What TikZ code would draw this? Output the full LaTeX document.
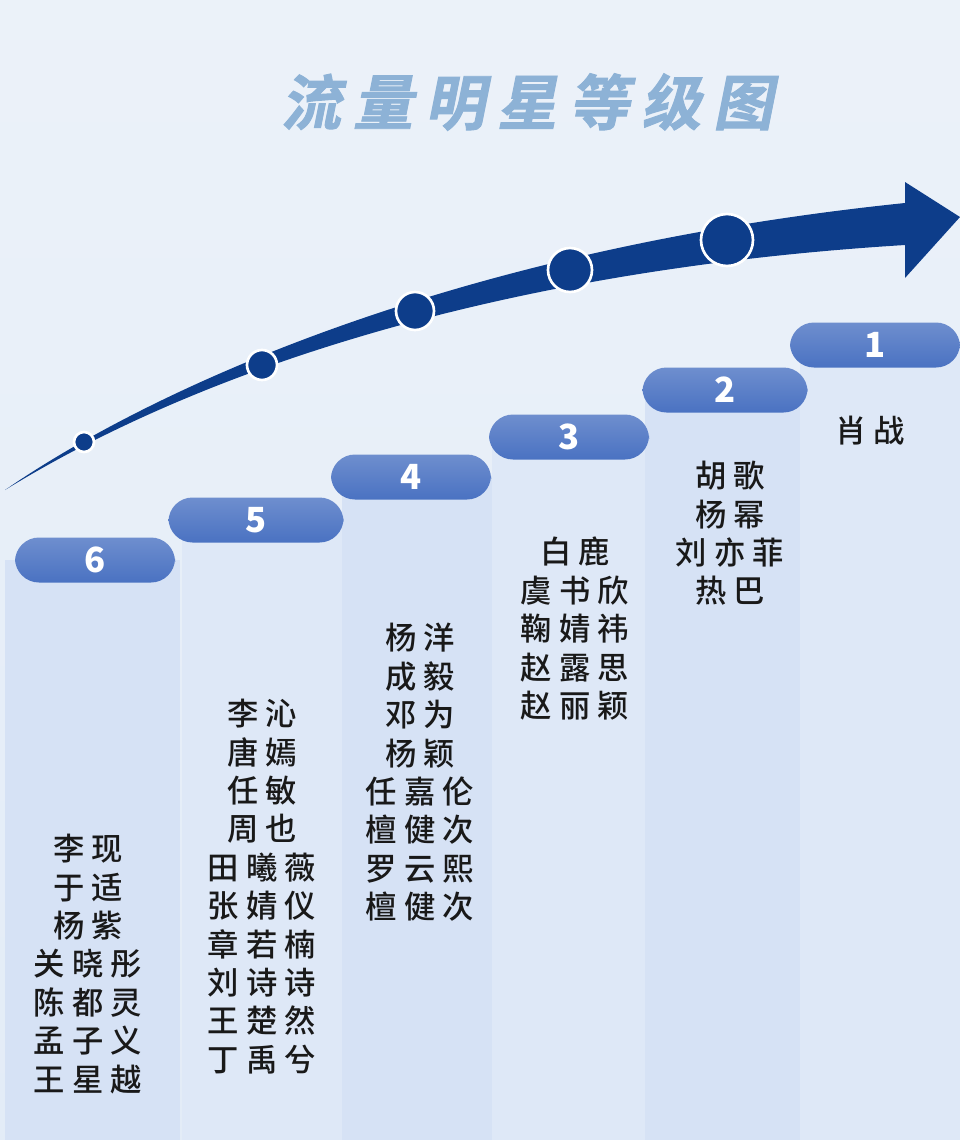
\documentclass[tikz,border=0pt]{standalone}
\usepackage{fontspec}
\setmainfont{Noto Sans CJK SC Medium}
\newfontfamily\titlefont[FakeSlant=0.2,FakeBold=1.5]{Noto Sans CJK SC Bold}
\usetikzlibrary{positioning,shadings}
\definecolor{bgblue}{HTML}{E3ECF7}
\definecolor{colblue}{HTML}{D6E2F5}
\definecolor{pillblue}{HTML}{4A72C2}
\definecolor{arrowblue}{HTML}{0D3D8A}
\definecolor{titleblue}{HTML}{8DB2D6}
\newcommand{\tsp}{\hspace{9pt}}

\begin{document}
\begin{tikzpicture}[
    x=0.75pt, y=-0.75pt,
    pill/.style={rounded corners=18pt, minimum width=160pt*0.75, minimum height=45pt*0.75,
        inner sep=0pt, top color=pillblue!80, bottom color=pillblue, draw=none,
        text=white, font=\bfseries\fontsize{26}{26}\selectfont},
    namelist/.style={align=center, anchor=north, inner sep=0pt, text=black!90,
        font=\fontsize{23.5}{28.8}\selectfont},
    dot/.style={circle, draw=white, line width=2pt, fill=arrowblue, inner sep=0pt}
]
    \useasboundingbox (0,0) rectangle (960,1140);
    \fill[top color=bgblue!70, bottom color=bgblue] (0,0) rectangle (960,1140);

    % title
    \node[text=titleblue, font=\titlefont\fontsize{45}{45}\selectfont] (title) at (527,102)
        {流\tsp 量\tsp 明\tsp 星\tsp 等\tsp 级\tsp 图};

    % columns
    \fill[colblue] (5,560) rectangle (180,1140);
    \fill[colblue!80] (182,520) rectangle (342,1140);
    \fill[colblue] (342,477) rectangle (492,1140);
    \fill[colblue!80] (492,437) rectangle (645,1140);
    \fill[colblue] (645,390) rectangle (800,1140);
    \fill[colblue!80] (800,345) rectangle (960,1140);

    % rising arrow
    \fill[arrowblue] (5,490) .. controls (150,390) and (450,250) .. (905,203)
        -- (905,182) -- (960,217) -- (905,278) -- (905,245)
        .. controls (500,270) and (200,370) .. (5,490) -- cycle;
    \node[dot, minimum size=20pt*0.75] (d6) at (84,442) {};
    \node[dot, minimum size=30pt*0.75] (d5) at (262,365) {};
    \node[dot, minimum size=38pt*0.75] (d4) at (415,311) {};
    \node[dot, minimum size=44pt*0.75] (d3) at (570,270) {};
    \node[dot, minimum size=52pt*0.75] (d2) at (727,240) {};

    % levels
    \node[pill] (p6) at (95,560) {6};
    \node[pill, minimum width=175pt*0.75] (p5) at (256,520) {5};
    \node[pill] (p4) at (411,477) {4};
    \node[pill] (p3) at (569,437) {3};
    \node[pill, minimum width=165pt*0.75] (p2) at (725,390) {2};
    \node[pill, minimum width=170pt*0.75] (p1) at (875,345) {1};

    % names
    \node[namelist] (n6) at (88,834) {李 现\\于 适\\杨 紫\\关 晓 彤\\陈 都 灵\\孟 子 义\\王 星 越};
    \node[namelist] (n5) at (262,699) {李 沁\\唐 嫣\\任 敏\\周 也\\田 曦 薇\\张 婧 仪\\章 若 楠\\刘 诗 诗\\王 楚 然\\丁 禹 兮};
    \node[namelist] (n4) at (420,623) {杨 洋\\成 毅\\邓 为\\杨 颖\\任 嘉 伦\\檀 健 次\\罗 云 熙\\檀 健 次};
    \node[namelist] (n3) at (575,537) {白 鹿\\虞 书 欣\\鞠 婧 祎\\赵 露 思\\赵 丽 颖};
    \node[namelist] (n2) at (730,461) {胡 歌\\杨 幂\\刘 亦 菲\\热 巴};
    \node[namelist] (n1) at (870,416) {肖 战};
\end{tikzpicture}
\end{document}
